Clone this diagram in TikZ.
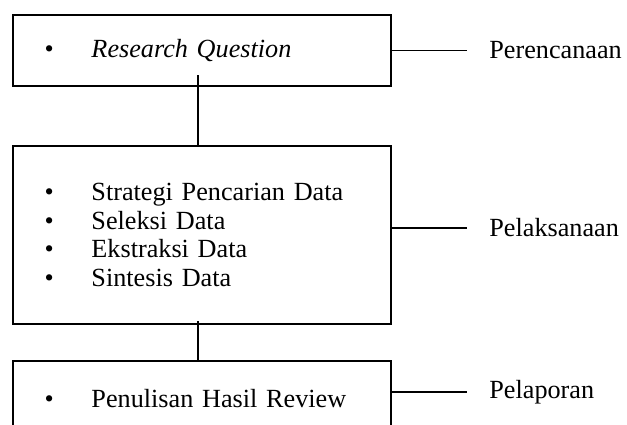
\documentclass[tikz,border=0pt]{standalone}
\usepackage{fontspec}
\setmainfont{Liberation Serif}
\usetikzlibrary{positioning}

\newcommand{\bitem}[1]{\makebox[23.5pt][l]{\textbullet}#1}

\begin{document}
\begin{tikzpicture}[
    x=0.5pt, y=-0.5pt,
    node distance=1cm,
    stagebox/.style={rectangle, draw, line width=1pt, text width=157.5pt, inner xsep=15.75pt, align=left, font=\fontsize{13.1}{14.25}\selectfont},
    phase/.style={inner xsep=11pt, anchor=west, font=\fontsize{13.1}{14.25}\selectfont},
    link/.style={line width=1pt},
    tick/.style={line width=0.6pt}
]
\clip (0,0) rectangle (627,424);

% Planning
\node[stagebox, minimum height=35.5pt, anchor=north west] (rq) at (12,14) {\bitem{\textit{Research Question}}};
\node[phase, right=37.5pt of rq] (plan) {Perencanaan};

% Execution
\node[stagebox, minimum height=89pt, below=29pt of rq] (exec) {\bitem{Strategi Pencarian Data}\\
    \bitem{Seleksi Data}\\
    \bitem{Ekstraksi Data}\\
    \bitem{Sintesis Data}};
\node[phase, right=37.5pt of exec, yshift=3.5pt] (run) {Pelaksanaan};

% Reporting
\node[stagebox, minimum height=37.5pt, below=17.5pt of exec] (report) {\bitem{Penulisan Hasil Review}};
\node[phase, right=37.5pt of report, yshift=3.25pt] (rep) {Pelaporan};

% Links between stages
\draw[link] ([xshift=-2pt,yshift=6pt]rq.south) -- ([xshift=-2pt]exec.north);
\draw[link] ([xshift=-2pt,yshift=2pt]exec.south) -- ([xshift=-2pt]report.north);

% Phase labels
\draw[tick] (rq.east |- plan.west) -- (plan.west);
\draw[tick] (exec.east |- run.west) -- (run.west);
\draw[tick] (report.east |- rep.west) -- (rep.west);
\end{tikzpicture}
\end{document}
